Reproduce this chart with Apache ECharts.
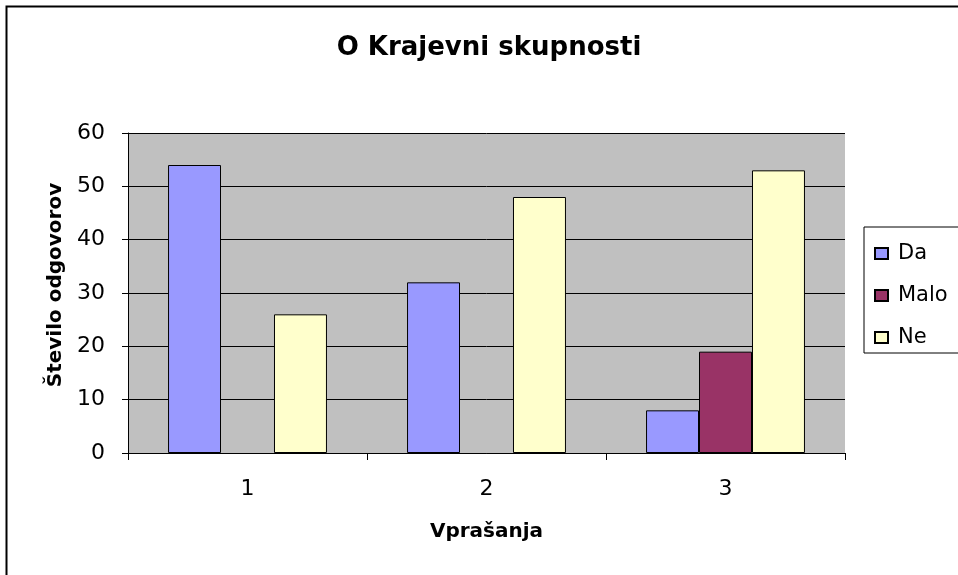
<!DOCTYPE html>
<html><head><meta charset="utf-8">
<script src="https://cdn.jsdelivr.net/npm/echarts@6/dist/echarts.min.js"></script>
<style>html,body{margin:0;padding:0;background:#fff}#c{width:958px;height:575px}</style>
</head><body><div id="c"></div>
<script>
var categories = ['1', '2', '3'];
var da = [54, 32, 8];
var malo = [null, null, 19];
var ne = [26, 48, 53];
var yTicks = [0, 10, 20, 30, 40, 50, 60];

var chart = echarts.init(document.getElementById('c'), null, {renderer: 'canvas'});
var font = 'DejaVu Sans, Liberation Sans, Arial, sans-serif';
function s(name, data, color) {
  return {
    name: name, type: 'bar', data: data, barGap: '0%', barCategoryGap: '33.5%',
    itemStyle: {color: color, borderColor: '#000', borderWidth: 1}
  };
}
chart.setOption({
  animation: false,
  backgroundColor: '#fff',
  title: {text: 'O Krajevni skupnosti', left: 489, top: 35, textAlign: 'center', padding: 0,
    textStyle: {fontFamily: font, fontSize: 26, fontWeight: 'bold', color: '#000'}},
  grid: {left: 128, right: 113, top: 133, bottom: 122, show: true, backgroundColor: '#C0C0C0', borderWidth: 0},
  legend: {
    orient: 'vertical', left: 864, top: 227,
    padding: [16, 60, 5, 10], itemGap: 21, itemWidth: 13, itemHeight: 11,
    borderColor: '#000', borderWidth: 1, backgroundColor: '#fff',
    icon: 'rect',
    textStyle: {fontFamily: font, fontSize: 21, color: '#000', padding: [0, 0, 0, 5]},
    data: ['Da', 'Malo', 'Ne']
  },
  xAxis: {
    type: 'category', data: categories,
    name: 'Vprašanja', nameLocation: 'middle', nameGap: 69,
    nameTextStyle: {fontFamily: font, fontSize: 20, fontWeight: 'bold', color: '#000'},
    axisLine: {lineStyle: {color: '#000', width: 1}},
    axisTick: {show: true, length: 7, lineStyle: {color: '#000'}},
    axisLabel: {fontFamily: font, fontSize: 22, color: '#000', margin: 25}
  },
  yAxis: {
    type: 'value', min: 0, max: 60, interval: 10,
    name: 'Število odgovorov', nameLocation: 'middle', nameGap: 61, nameRotate: 90,
    nameTextStyle: {fontFamily: font, fontSize: 20, fontWeight: 'bold', color: '#000', padding: [0, 0, 0, 16]},
    axisLine: {show: true, lineStyle: {color: '#000', width: 1}},
    axisTick: {show: true, length: 6, lineStyle: {color: '#000'}},
    axisLabel: {fontFamily: font, fontSize: 22, color: '#000', margin: 23,
      formatter: function (v) { return yTicks.indexOf(v) >= 0 ? String(v) : ''; }},
    splitLine: {show: true, lineStyle: {color: '#000', width: 1}}
  },
  series: [s('Da', da, '#9999FF'), s('Malo', malo, '#993366'), s('Ne', ne, '#FFFFCC')],
  graphic: [{type: 'rect', shape: {x: 6.5, y: 6.5, width: 980, height: 600},
    style: {fill: 'none', stroke: '#000', lineWidth: 2}, silent: true, z: 100}]
});
</script></body></html>
